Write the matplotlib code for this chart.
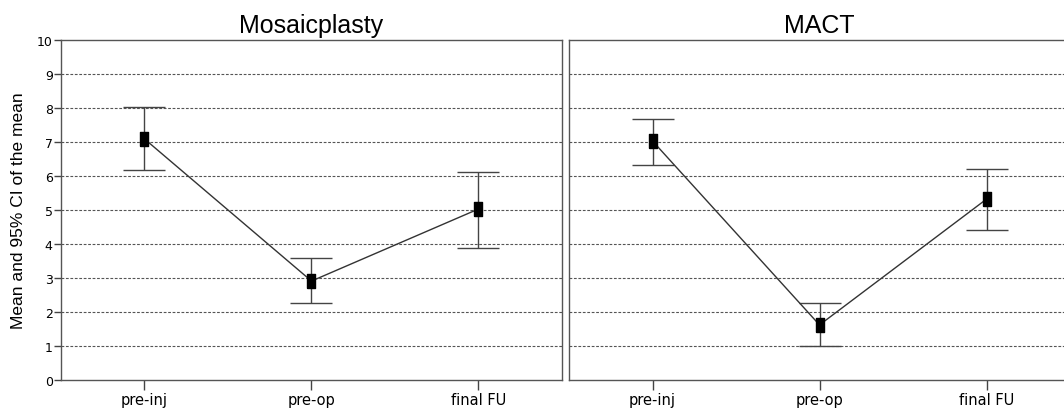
import matplotlib.pyplot as plt

CATEGORIES = ["pre-inj", "pre-op", "final FU"]
PANELS = ["Mosaicplasty", "MACT"]
# means and 95% CI bounds
MEANS = [[7.09, 2.91, 5.03], [7.03, 1.62, 5.32]]
UPPER = [[8.02, 3.59, 6.12], [7.68, 2.26, 6.20]]
LOWER = [[6.18, 2.26, 3.89], [6.32, 1.00, 4.41]]
YTICKS = list(range(0, 11))

W, H = 1064, 414
fig = plt.figure(figsize=(W / 100, H / 100), dpi=100)

# rectangle marker (taller than wide)
rect = [(-0.55, -1), (0.55, -1), (0.55, 1), (-0.55, 1), (-0.55, -1)]

lefts = [61, 569]
for k, name in enumerate(PANELS):
    ax = fig.add_axes([lefts[k] / W, 1 - 381 / H, 501 / W, 340 / H])
    x = list(range(len(CATEGORIES)))
    m = MEANS[k]
    yerr = [[m[i] - LOWER[k][i] for i in x], [UPPER[k][i] - m[i] for i in x]]
    for y in YTICKS[1:-1]:
        ax.axhline(y, color='#555555', linestyle=(0, (2.5, 1.5)), linewidth=0.8, zorder=0)
    ax.errorbar(x, m, yerr=yerr, fmt='none', ecolor='#444444', elinewidth=1.0,
                capsize=15, capthick=1.0, zorder=2)
    ax.plot(x, m, color='#333333', linewidth=1.0, zorder=3)
    ax.plot(x, m, linestyle='none', marker=rect, markersize=10.5,
            color='black', zorder=4)
    ax.set_xlim(-0.5, 2.5)
    ax.set_ylim(0, 10)
    ax.set_xticks(x)
    ax.set_xticklabels(CATEGORIES, fontsize=10.5, family='DejaVu Sans')
    ax.tick_params(axis='x', direction='out', length=7, width=1, color='#444444', pad=2)
    ax.set_yticks(YTICKS)
    if k == 0:
        ax.set_yticklabels([str(t) for t in YTICKS], fontsize=9, family='DejaVu Sans')
        ax.tick_params(axis='y', direction='out', length=5, width=1, color='#444444', pad=1)
        ax.set_ylabel("Mean and 95% CI of the mean", fontsize=12.5,
                      family='Liberation Sans', labelpad=8)
    else:
        ax.tick_params(axis='y', length=0, labelleft=False)
    for s in ax.spines.values():
        s.set_color('#555555')
        s.set_linewidth(1.0)
    ax.set_title(name, fontsize=18, family='Liberation Sans', pad=6)

fig.savefig("out.png", dpi=100)
